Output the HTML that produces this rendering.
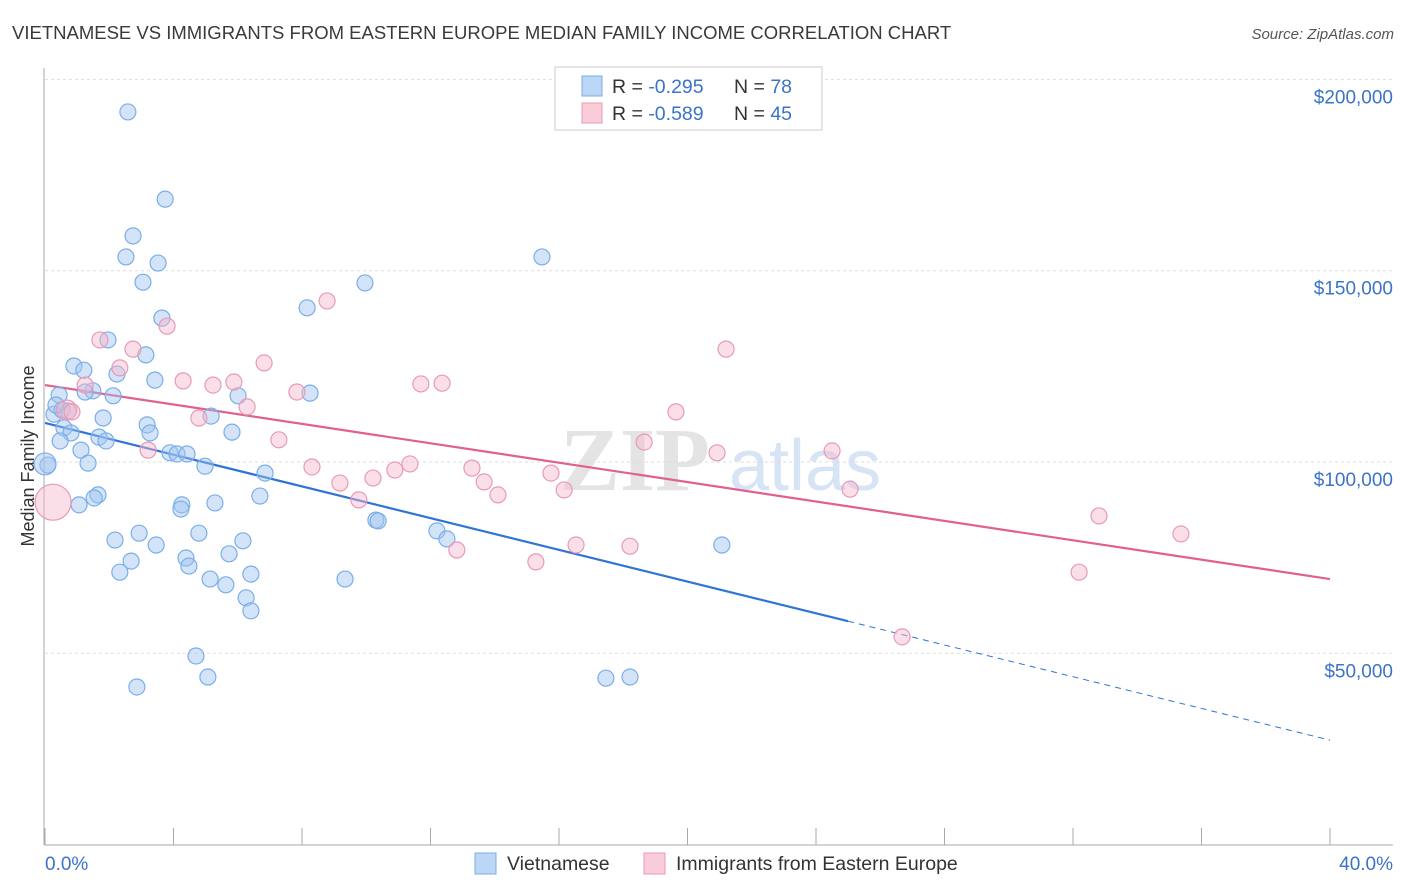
<!DOCTYPE html>
<html><head><meta charset="utf-8"><style>
body{margin:0;background:#fff;font-family:"Liberation Sans",sans-serif;}
svg{display:block}
</style></head><body>
<svg id="chart" width="1406" height="892" xmlns="http://www.w3.org/2000/svg">
<text x="12" y="39" font-size="18.5" fill="#3a3a3a">VIETNAMESE VS IMMIGRANTS FROM EASTERN EUROPE MEDIAN FAMILY INCOME CORRELATION CHART</text>
<text x="1394" y="39" font-size="15" fill="#555" font-style="italic" text-anchor="end">Source: ZipAtlas.com</text>
<g>
<text x="635" y="490" font-size="90" fill="#e4e4e4" font-family="Liberation Serif" font-weight="bold" text-anchor="middle">ZIP</text>
<text x="805" y="490" font-size="72" fill="#d6e4f5" text-anchor="middle">atlas</text>
</g>
<g id="grid"></g>
<g id="axes"></g>
<text transform="translate(34,456) rotate(-90)" font-size="18" fill="#333" text-anchor="middle">Median Family Income</text>
<g id="trend"></g>
<g id="pts"></g>
<g>
<rect x="555" y="67" width="267" height="63" fill="#fff" stroke="#ccc"/>
<rect x="582" y="76" width="20" height="20" fill="#bcd6f5" stroke="#7aaee8"/>
<rect x="582" y="103" width="20" height="20" fill="#f9ccd9" stroke="#e89ab4"/>
<text x="612" y="93" font-size="19.5" fill="#333">R = <tspan fill="#3b73c8">-0.295</tspan></text>
<text x="734" y="93" font-size="19.5" fill="#333">N = <tspan fill="#3b73c8">78</tspan></text>
<text x="612" y="120" font-size="19.5" fill="#333">R = <tspan fill="#3b73c8">-0.589</tspan></text>
<text x="734" y="120" font-size="19.5" fill="#333">N = <tspan fill="#3b73c8">45</tspan></text>
</g>
<g>
<rect x="475" y="853" width="21" height="21" fill="#bcd6f5" stroke="#7aaee8"/>
<text x="507" y="870" font-size="19.5" fill="#333">Vietnamese</text>
<rect x="644" y="853" width="21" height="21" fill="#f9ccd9" stroke="#e89ab4"/>
<text x="676" y="870" font-size="19.5" fill="#333">Immigrants from Eastern Europe</text>
</g>
</svg>
<script>
const yTicks=[50000,100000,150000,200000];
const yTickLabels=["$50,000","$100,000","$150,000","$200,000"];
const xTickLabels=["0.0%","40.0%"];
const blueX=[2.58,3.74,2.74,2.52,3.52,3.05,9.96,8.16,15.47,3.64,1.96,3.14,0.90,1.21,2.24,3.42,0.44,1.49,2.12,8.25,6.01,0.28,0.72,1.81,5.17,3.18,3.27,0.59,0.81,5.82,0.47,1.68,1.90,0.09,1.12,3.89,4.11,4.42,1.34,4.98,6.85,6.69,1.65,1.53,1.06,4.26,4.23,5.29,10.30,10.37,12.20,12.51,2.93,2.18,4.79,3.46,6.16,21.07,5.73,4.39,2.68,4.48,2.33,6.41,5.14,5.63,9.34,6.26,6.41,4.70,2.86,5.07,17.46,18.21,0.0,0.53,0.34,1.25];
const blueY=[191.5,168.7,159.1,153.6,152.0,147.0,146.8,140.3,153.6,137.6,131.9,128.0,125.1,124.0,123.0,121.4,117.5,118.6,117.3,118.0,117.3,112.5,113.3,111.5,112.0,109.7,107.6,108.9,107.6,107.8,105.5,106.5,105.5,99.2,103.1,102.4,102.1,102.1,99.7,98.9,97.1,91.1,91.4,90.6,88.8,88.8,87.7,89.3,84.8,84.6,82.0,79.9,81.4,79.6,81.4,78.3,79.4,78.3,76.0,74.9,74.1,72.8,71.2,70.7,69.4,67.9,69.4,64.5,61.1,49.3,41.2,43.8,43.5,43.8,99.5,113.6,114.9,118.3];
const blueR=[8,8,8,8,8,8,8,8,8,8,8,8,8,8,8,8,8,8,8,8,8,8,8,8,8,8,8,8,8,8,8,8,8,8,8,8,8,8,8,8,8,8,8,8,8,8,8,8,8,8,8,8,8,8,8,8,8,8,8,8,8,8,8,8,8,8,8,8,8,8,8,8,8,8,11,8,8,8];
const pinkX=[1.71,3.80,8.78,2.74,2.33,6.82,1.25,4.30,5.23,5.88,7.84,11.70,12.36,21.20,0.68,0.84,6.29,4.79,19.64,7.28,3.21,18.65,20.92,24.50,8.31,11.36,10.89,10.21,13.29,15.75,9.18,13.67,14.10,16.16,9.77,25.06,0.25,32.81,35.36,16.53,18.21,12.82,15.28,32.19,26.68];
const pinkY=[131.9,135.5,142.1,129.5,124.6,125.9,120.1,121.2,120.1,120.9,118.3,120.4,120.6,129.5,113.6,113.1,114.4,111.5,113.1,105.8,103.1,105.2,102.4,102.9,98.7,99.5,97.9,95.8,98.4,97.1,94.5,94.8,91.4,92.7,90.1,92.9,89.5,85.9,81.2,78.3,78.0,77.0,73.9,71.2,54.3];
const pinkR=[8,8,8,8,8,8,8,8,8,8,8,8,8,8,10,8,8,8,8,8,8,8,8,8,8,8,8,8,8,8,8,8,8,8,8,8,18,8,8,8,8,8,8,8,8];
const blueTrend=[110.2,27.3];
const blueSolidEnd=25.0;
const pinkTrend=[120.1,69.4];
const NS="http://www.w3.org/2000/svg";
const X0=45,X1=1330,Y0=844.6;
function sx(p){return X0+(p/40)*(X1-X0);}
function sy(v){return Y0-(v/1000)*3.826;}
function mk(tag,attrs,parent){const e=document.createElementNS(NS,tag);for(const k in attrs)e.setAttribute(k,attrs[k]);parent.appendChild(e);return e;}
const grid=document.getElementById('grid'),axes=document.getElementById('axes');
yTicks.forEach((v,i)=>{
  const g=mk('line',{x1:45,x2:1393,y1:sy(v),y2:sy(v),stroke:'#ddd','stroke-dasharray':'3,3'},grid);
  
  
  const t=mk('text',{x:1393,y:sy(v)+24,'font-size':19,fill:'#3b73c8','text-anchor':'end'},axes);
  t.textContent=yTickLabels[i];
  
  
});
mk('line',{x1:44,x2:44,y1:68,y2:845,stroke:'#aaa'},axes);
mk('line',{x1:44,x2:1393,y1:845,y2:845,stroke:'#aaa'},axes);
for(let i=0;i<=10;i++){const x=sx(i*4);mk('line',{x1:x,x2:x,y1:828,y2:845,stroke:'#aaa'},axes);}
const xl=mk('text',{x:45,y:870,'font-size':19,fill:'#3b73c8'},axes);xl.textContent=xTickLabels[0];


const xr=mk('text',{x:1393,y:870,'font-size':19,fill:'#3b73c8','text-anchor':'end'},axes);xr.textContent=xTickLabels[1];


const pts=document.getElementById('pts');
blueX.forEach((x,i)=>{const c=mk('circle',{cx:sx(x),cy:sy(blueY[i]*1000),r:blueR[i],fill:'rgba(160,196,240,0.45)',stroke:'#7aaee8','stroke-width':1.2},pts);
  
  });
pinkX.forEach((x,i)=>{const c=mk('circle',{cx:sx(x),cy:sy(pinkY[i]*1000),r:pinkR[i],fill:'rgba(246,184,204,0.45)',stroke:'#e89ab4','stroke-width':1.2},pts);
  
  });
const tr=document.getElementById('trend');
function ty(t,x){return t[0]+(t[1]-t[0])*x/40;}
const b1=mk('line',{x1:sx(0),y1:sy(ty(blueTrend,0)*1000),x2:sx(blueSolidEnd),y2:sy(ty(blueTrend,blueSolidEnd)*1000),stroke:'#2f74d6','stroke-width':2.2},tr);


const b2=mk('line',{x1:sx(blueSolidEnd),y1:sy(ty(blueTrend,blueSolidEnd)*1000),x2:sx(40),y2:sy(ty(blueTrend,40)*1000),stroke:'#2f74d6','stroke-width':1,'stroke-dasharray':'6,5'},tr);


const p1=mk('line',{x1:sx(0),y1:sy(ty(pinkTrend,0)*1000),x2:sx(40),y2:sy(ty(pinkTrend,40)*1000),stroke:'#e0608e','stroke-width':2.2},tr);


</script>
</body></html>
